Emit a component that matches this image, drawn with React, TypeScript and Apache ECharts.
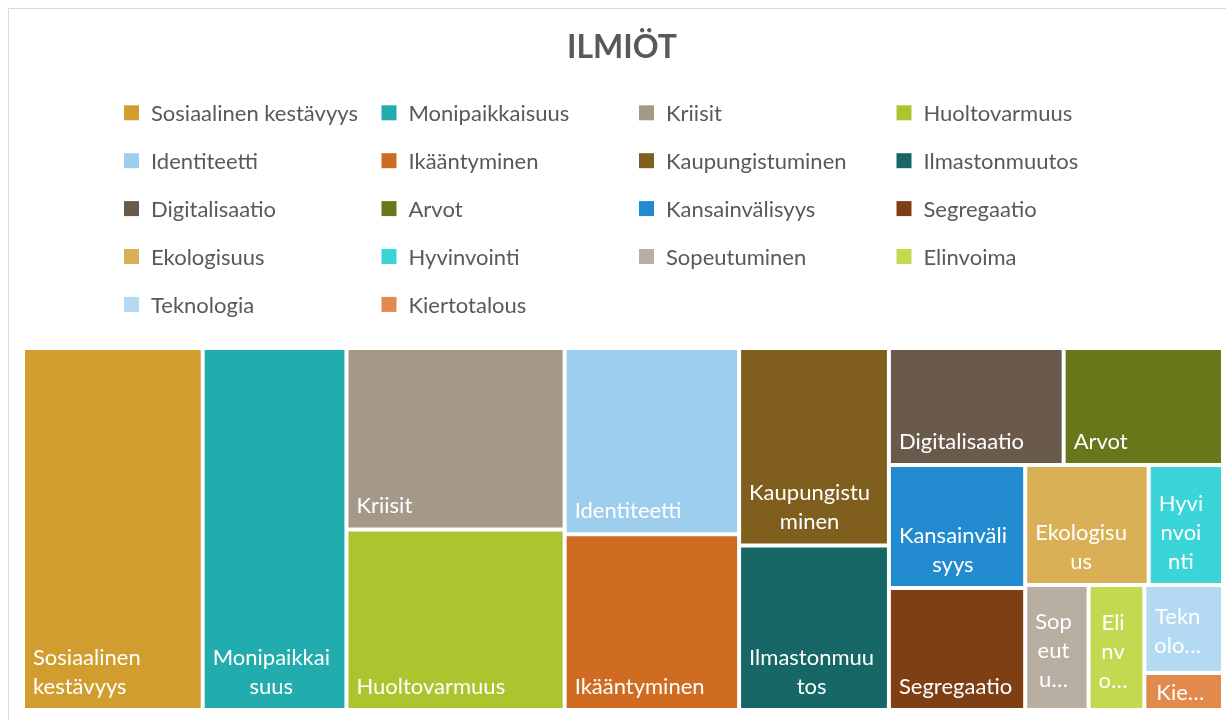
import React, { useEffect, useRef } from "react";
import * as echarts from "echarts";

const TITLE = "ILMIÖT";

const categories = [
  "Sosiaalinen kestävyys",
  "Monipaikkaisuus",
  "Kriisit",
  "Huoltovarmuus",
  "Identiteetti",
  "Ikääntyminen",
  "Kaupungistuminen",
  "Ilmastonmuutos",
  "Digitalisaatio",
  "Arvot",
  "Kansainvälisyys",
  "Segregaatio",
  "Ekologisuus",
  "Hyvinvointi",
  "Sopeutuminen",
  "Elinvoima",
  "Teknologia",
  "Kiertotalous",
];

// labels as displayed inside the tiles (wrapped / truncated as in the original)
const tileLabels = [
  "Sosiaalinen\nkestävyys",
  "Monipaikkai\nsuus",
  "Kriisit",
  "Huoltovarmuus",
  "Identiteetti",
  "Ikääntyminen",
  "Kaupungistu\nminen",
  "Ilmastonmuu\ntos",
  "Digitalisaatio",
  "Arvot",
  "Kansainväli\nsyys",
  "Segregaatio",
  "Ekologisu\nus",
  "Hyvi\nnvoi\nnti",
  "Sop\neut\nu…",
  "Eli\nnv\no…",
  "Tekn\nolo…",
  "Kie…",
];

const values = [
  64.9, 51.9, 39.5, 39.3, 32.4, 30.6, 29.5, 24.6, 20.4, 18.6, 16.7, 16.6, 14.8,
  8.9, 7.9, 6.95, 6.9, 2.9,
];

const colors = [
  "#D19D2F",
  "#23ACAE",
  "#A69886",
  "#ACC42D",
  "#9ECEEE",
  "#D06B22",
  "#7F5E1E",
  "#176767",
  "#6A5A4C",
  "#69761A",
  "#228ACF",
  "#7E3F14",
  "#DAB057",
  "#3AD5D7",
  "#B9AEA2",
  "#C4D94F",
  "#B4D9F2",
  "#E18A4C",
];

// label overrides for very small cells
const compactLabels = ["Kiertotalous"];
// extra bottom padding for truncated labels (they sit a little higher)
const labelLift: Record<string, number> = {
  Sopeutuminen: 7,
  Elinvoima: 6,
  Teknologia: 4,
};

const FONT = "Lato, 'Open Sans', sans-serif";
const LABEL_SIZE = 22;
const PAD = [4, 11, 8, 8];

export default function App() {
  const ref = useRef<HTMLDivElement>(null);

  useEffect(() => {
    if (!ref.current) return;
    const chart = echarts.init(ref.current, undefined, { renderer: "svg" });

    const ctx = document.createElement("canvas").getContext("2d");
    if (ctx) ctx.font = `${LABEL_SIZE}px ${FONT}`;
    const measure = (s: string) => (ctx ? ctx.measureText(s).width : s.length * 10);

    const legendEls: any[] = [];
    categories.forEach((name, i) => {
      const col = i % 4;
      const row = Math.floor(i / 4);
      const x = 124 + col * 257.5;
      const yc = 112.8 + row * 47.9;
      legendEls.push({
        type: "rect",
        shape: { x, y: yc - 7.5, width: 15, height: 15 },
        style: { fill: colors[i] },
        silent: true,
      });
      legendEls.push({
        type: "text",
        x: x + 27,
        y: yc,
        style: {
          text: name,
          fill: "#595959",
          fontSize: 22,
          fontFamily: FONT,
          verticalAlign: "middle",
          align: "left",
        },
        silent: true,
      });
    });

    const data = categories.map((name, i) => {
      const text = tileLabels[i];
      const lines = text.split("\n");
      const label: any = { formatter: text };
      // words broken inside a word are centred under each other
      if (lines.length > 1 && !name.includes(" ")) {
        const w = Math.max(...lines.map(measure));
        label.position = [PAD[3] + w / 2 - (PAD[3] - PAD[1]) / 2, "100%"];
        label.align = "center";
        label.verticalAlign = "bottom";
      }
      if (labelLift[name]) {
        label.padding = [PAD[0], PAD[1], PAD[2] + labelLift[name], PAD[3]];
      }
      if (compactLabels.includes(name)) {
        label.padding = [0, 4, 2, 10];
      }
      return {
        name,
        value: values[i],
        itemStyle: { color: colors[i] },
        label,
      };
    });

    chart.setOption({
      animation: false,
      graphic: [
        {
          type: "rect",
          shape: { x: 8.5, y: 8.5, width: 1240, height: 740 },
          style: { fill: "none", stroke: "#D9D9D9", lineWidth: 1 },
          silent: true,
        },
        {
          type: "text",
          x: 622,
          y: 45,
          style: {
            text: TITLE,
            fill: "#595959",
            fontSize: 32,
            fontWeight: "bold",
            fontFamily: FONT,
            align: "center",
            verticalAlign: "middle",
          },
          silent: true,
        },
        ...legendEls,
      ],
      series: [
        {
          type: "treemap",
          left: 25,
          top: 350,
          width: 1196,
          height: 358,
          squareRatio: 0.792,
          sort: "desc",
          roam: false,
          nodeClick: false,
          breadcrumb: { show: false },
          itemStyle: { borderWidth: 0, gapWidth: 4, borderColor: "#fff" },
          label: {
            show: true,
            position: "insideBottomLeft",
            distance: 0,
            color: "#fff",
            fontFamily: FONT,
            fontSize: LABEL_SIZE,
            lineHeight: 29,
            overflow: "none",
            padding: PAD,
          },
          upperLabel: { show: false },
          emphasis: { disabled: true },
          data,
        },
      ],
    });

    return () => chart.dispose();
  }, []);

  return (
    <div
      ref={ref}
      style={{ position: "fixed", left: 0, top: 0, width: 1226, height: 720 }}
    />
  );
}
